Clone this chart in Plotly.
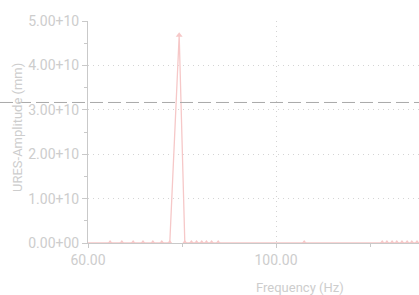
import plotly.graph_objects as go

# Data
freq_hz = [58.0, 64.7, 67.2, 69.6, 71.7, 73.8, 75.7, 77.4, 79.4, 80.6, 82.0, 83.1,
           84.2, 85.2, 86.3, 87.7, 106.0, 122.6, 123.6, 124.7, 125.7, 126.8,
           127.9, 128.9, 130.0, 131.0]
amplitude = [0, 0, 0, 0, 0, 0, 0, 0, 4.68e10, 0, 0, 0,
             0, 0, 0, 0, 0, 0, 0, 0, 0, 0,
             0, 0, 0, 0]
threshold = 3.165e10

y_tickvals = [0, 1e10, 2e10, 3e10, 4e10, 5e10]
y_ticktext = ["0.00+00", "1.00+10", "2.00+10", "3.00+10", "4.00+10", "5.00+10"]
x_tickvals = [60, 100, 140]
x_ticktext = ["60.00", "100.00", "140.00"]
x_minor = [80, 120]
y_minor = [0.5e10, 1.5e10, 2.5e10, 3.5e10, 4.5e10]

x_title = "Frequency (Hz)"
y_title = "URES-Amplitude (mm)"

FONT = "Roboto, Liberation Sans, sans-serif"
TXT = "#cdcdcd"
AX = "#c9c9c9"
GRID = "#d4d4d4"
LINE = "#f6c8c8"

fig = go.Figure()
fig.add_trace(go.Scatter(
    x=freq_hz, y=amplitude, mode="lines+markers",
    line=dict(color=LINE, width=1.3),
    marker=dict(symbol="triangle-up", size=6, color=LINE),
    showlegend=False, hoverinfo="skip",
))

fig.add_shape(type="line", xref="paper", yref="y",
              x0=-88 / 331, x1=1, y0=threshold, y1=threshold,
              line=dict(color="#a9a9a9", width=1, dash="13px,5px"))

fig.update_layout(
    width=419, height=295,
    margin=dict(l=88, r=0, t=21, b=52, autoexpand=False),
    paper_bgcolor="white", plot_bgcolor="white",
    font=dict(family=FONT, size=14, color=TXT),
    xaxis=dict(
        range=[60, 60 + 331 / 4.7], tickvals=x_tickvals, ticktext=x_ticktext,
        showgrid=True, gridcolor=GRID, griddash="1px,4px", gridwidth=1,
        showline=True, linecolor=AX, linewidth=1, automargin=False,
        ticks="outside", ticklen=4, tickcolor=AX,
        minor=dict(tickvals=x_minor, ticks="outside", ticklen=3, tickcolor=AX, showgrid=False),
        zeroline=False, tickfont=dict(family=FONT, size=14, color=TXT),
    ),
    yaxis=dict(
        range=[0, 5e10], tickvals=y_tickvals, ticktext=y_ticktext,
        showgrid=True, gridcolor=GRID, griddash="1px,4px", gridwidth=1,
        showline=True, linecolor=AX, linewidth=1, automargin=False,
        ticks="outside", ticklen=5, tickcolor=AX,
        minor=dict(tickvals=y_minor, ticks="outside", ticklen=3, tickcolor=AX, showgrid=False),
        zeroline=False, tickfont=dict(family=FONT, size=14, color=TXT),
    ),
    annotations=[
        dict(text=x_title, xref="paper", yref="paper", x=(300 - 88) / 331,
             y=(243 - 287) / 222, xanchor="center", yanchor="middle",
             showarrow=False, font=dict(family=FONT, size=13, color=TXT)),
        dict(text=y_title, xref="paper", yref="paper", x=(18 - 88) / 331,
             y=(243 - 128) / 222, xanchor="center", yanchor="middle", textangle=-90,
             showarrow=False, font=dict(family=FONT, size=13, color=TXT)),
    ],
)

fig.write_html("out.html", config={"displayModeBar": False},
               post_script="document.body.style.margin='0';document.body.style.overflow='hidden';")
